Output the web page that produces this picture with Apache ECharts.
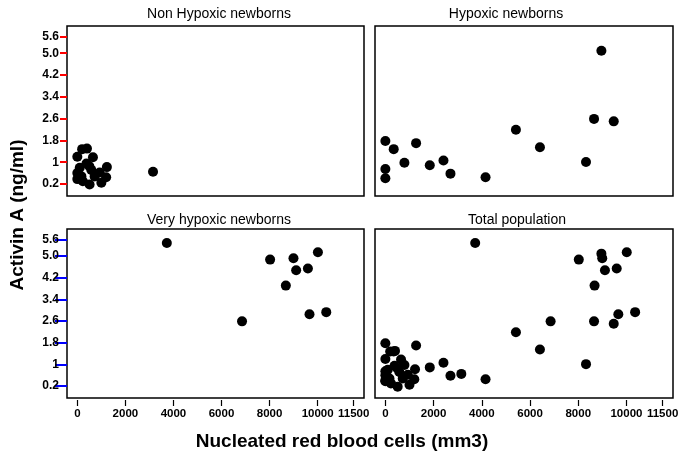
<!DOCTYPE html>
<html>
<head>
<meta charset="utf-8">
<script src="https://cdn.jsdelivr.net/npm/echarts@6/dist/echarts.min.js"></script>
<style>
  html, body { margin: 0; padding: 0; background: #fff; }
  #chart { width: 679px; height: 456px; }
</style>
</head>
<body>
<div id="chart"></div>
<script>
// [nucleated RBC (mm3), activin A (ng/ml)]
const nonHypoxic = [
  [0, 1.2], [200, 1.48], [400, 1.5], [650, 1.18], [380, 0.95], [1230, 0.82],
  [0, 0.6], [0, 0.38], [580, 0.72], [930, 0.62], [3150, 0.65], [230, 0.3],
  [510, 0.18], [1000, 0.25], [1200, 0.45], [170, 0.48], [720, 0.48], [100, 0.8], [500, 0.85]
]
const hypoxic = [
  [0, 1.78], [346, 1.48], [1274, 1.7], [790, 0.98], [0, 0.75], [0, 0.41],
  [1842, 0.89], [2410, 1.06], [2700, 0.58], [4155, 0.45], [5415, 2.19],
  [6411, 1.55], [8322, 1.01], [8655, 2.59], [9472, 2.5], [8960, 5.09]
]
const veryHypoxic = [
  [3725, 5.48], [6854, 2.59], [8023, 4.87], [8995, 4.92], [9107, 4.48],
  [8677, 3.91], [9595, 4.54], [10012, 5.14], [9662, 2.85], [10359, 2.93]
]
const totalPopulation = nonHypoxic.concat(hypoxic, veryHypoxic)

const panelTitles = ['Non Hypoxic newborns', 'Hypoxic newborns', 'Very hypoxic newborns', 'Total population']
const xTicks = [0, 2000, 4000, 6000, 8000, 10000, 11500]
const yTicks = [0.2, 1, 1.8, 2.6, 3.4, 4.2, 5.0, 5.6]
const yTickLabels = ['0.2', '1', '1.8', '2.6', '3.4', '4.2', '5.0', '5.6']

const xMin = -430
const xMax = 11930
const font = 'Liberation Sans, Arial, sans-serif'
const grids = [
  { left: 67, top: 26, width: 297, height: 170 },
  { left: 375, top: 26, width: 298, height: 170 },
  { left: 67, top: 229, width: 297, height: 169 },
  { left: 375, top: 229, width: 298, height: 169 }
]
const titlePos = [[219, 7], [506, 7], [219, 213], [517, 213]]
const panelData = [nonHypoxic, hypoxic, veryHypoxic, totalPopulation]

const myChart = echarts.init(document.getElementById('chart'))

const option = {
  backgroundColor: '#fff',
  animation: false,
  title: panelTitles.map((t, i) => ({
    text: t,
    left: titlePos[i][0],
    top: titlePos[i][1],
    padding: 0,
    textAlign: 'center',
    textStyle: { fontFamily: font, fontSize: 14, fontWeight: 'normal', color: '#000' }
  })),
  grid: grids.map(g => Object.assign({
    show: true,
    borderColor: '#000',
    borderWidth: 1.5,
    backgroundColor: 'transparent',
    outerBoundsMode: 'none'
  }, g)),
  xAxis: grids.map((g, i) => ({
    type: 'value',
    gridIndex: i,
    min: xMin,
    max: xMax,
    offset: 2,
    z: 10,
    axisLine: { show: false, onZero: false },
    splitLine: { show: false },
    axisTick: { show: i >= 2, length: 6, customValues: xTicks, lineStyle: { color: '#000', width: 1.2 } },
    axisLabel: {
      show: i >= 2,
      customValues: xTicks,
      margin: 8,
      formatter: v => String(v),
      fontFamily: font,
      fontWeight: 'bold',
      fontSize: 11.5,
      color: '#000'
    }
  })),
  yAxis: grids.map((g, i) => ({
    type: 'value',
    gridIndex: i,
    min: -0.24,
    max: 6.0,
    z: 10,
    axisLine: { show: false, onZero: false },
    splitLine: { show: false },
    axisTick: {
      show: i % 2 === 0,
      length: i === 0 ? 7 : 12,
      customValues: yTicks,
      lineStyle: { color: i === 0 ? '#f00' : '#00f', width: 2 }
    },
    axisLabel: {
      show: i % 2 === 0,
      customValues: yTicks,
      margin: 8,
      formatter: v => yTickLabels[yTicks.indexOf(v)],
      fontFamily: font,
      fontWeight: 'bold',
      fontSize: 12,
      color: '#000'
    }
  })),
  series: panelData.map((d, i) => ({
    type: 'scatter',
    xAxisIndex: i,
    yAxisIndex: i,
    symbol: 'circle',
    symbolSize: 10,
    itemStyle: { color: '#000', opacity: 1 },
    data: d
  })),
  graphic: [
    {
      type: 'text',
      x: 18,
      y: 215,
      rotation: Math.PI / 2,
      style: {
        text: 'Activin A (ng/ml)',
        fontFamily: font,
        fontWeight: 'bold',
        fontSize: 19,
        fill: '#000',
        align: 'center',
        verticalAlign: 'middle'
      }
    },
    {
      type: 'text',
      x: 342,
      y: 442,
      style: {
        text: 'Nucleated red blood cells (mm3)',
        fontFamily: font,
        fontWeight: 'bold',
        fontSize: 19,
        fill: '#000',
        align: 'center',
        verticalAlign: 'middle'
      }
    }
  ]
}

myChart.setOption(option)
</script>
</body>
</html>
